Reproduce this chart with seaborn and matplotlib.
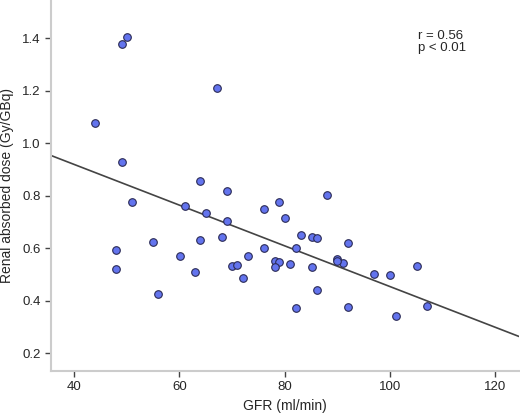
import numpy as np
import pandas as pd
import matplotlib
matplotlib.use("Agg")
import matplotlib.pyplot as plt
import seaborn as sns

# values
gfr = [50.0, 49.0, 67.1, 44.0, 49.0, 64.0, 69.1, 51.0, 61.0, 65.0,
       69.1, 76.1, 79.0, 80.0, 55.0, 48.0, 48.0, 56.0, 60.1, 63.0,
       64.0, 68.0, 70.0, 71.0, 72.0, 73.1, 76.1, 78.1, 79.0, 78.1,
       88.0, 83.1, 85.1, 86.1, 92.1, 82.1, 81.1, 85.1, 90.0, 91.1,
       90.0, 97.0, 100.0, 105.1, 86.1, 82.1, 92.1, 101.1, 107.1]
dose = [1.404, 1.377, 1.209, 1.077, 0.930, 0.855, 0.817, 0.775, 0.761, 0.735,
        0.704, 0.751, 0.774, 0.716, 0.623, 0.592, 0.520, 0.427, 0.571, 0.510,
        0.631, 0.643, 0.532, 0.536, 0.487, 0.571, 0.600, 0.551, 0.547, 0.527,
        0.802, 0.649, 0.642, 0.640, 0.619, 0.600, 0.541, 0.529, 0.559, 0.545,
        0.550, 0.502, 0.498, 0.532, 0.441, 0.372, 0.375, 0.341, 0.379]
x_ticks = [40, 60, 80, 100, 120]
y_ticks = [0.2, 0.4, 0.6, 0.8, 1.0, 1.2, 1.4]

df = pd.DataFrame({"gfr": gfr, "dose": dose})

sns.set_style("white")
plt.rcParams["font.family"] = ["Liberation Sans", "DejaVu Sans"]

fig = plt.figure(figsize=(5.2, 4.19), dpi=100)
ax = fig.add_axes([0.098, 0.115, 0.9, 0.885])
ax.set_xlim(35.6, 124.5)
ax.set_ylim(0.133, 1.545)

sns.regplot(data=df, x="gfr", y="dose", ax=ax, ci=None, truncate=False,
            scatter_kws=dict(s=30, color="#6374ee", edgecolor="#2a2a55",
                             linewidths=0.8, alpha=1, zorder=3),
            line_kws=dict(color="#444444", lw=1.2, zorder=2))

ax.set_xlim(35.6, 124.5)
ax.set_ylim(0.133, 1.545)
ax.set_xticks(x_ticks)
ax.set_yticks(y_ticks)
ax.set_yticklabels([f"{v:.1f}" for v in y_ticks])
ax.set_xlabel("GFR (ml/min)", fontsize=10, labelpad=4)
ax.set_ylabel("Renal absorbed dose (Gy/GBq)", fontsize=10, labelpad=6)
ax.tick_params(axis="both", labelsize=9.5, direction="out", length=4,
               width=1, color="#444444", bottom=True, left=True)

for s in ["top", "right"]:
    ax.spines[s].set_visible(False)
for s in ["left", "bottom"]:
    ax.spines[s].set_color("#cccccc")
    ax.spines[s].set_linewidth(1.5)

ax.text(0.784, 0.92, "r = 0.56\np < 0.01", transform=ax.transAxes,
        fontsize=9.5, va="top", ha="left", linespacing=1.05)

fig.savefig("out.png", dpi=100)
